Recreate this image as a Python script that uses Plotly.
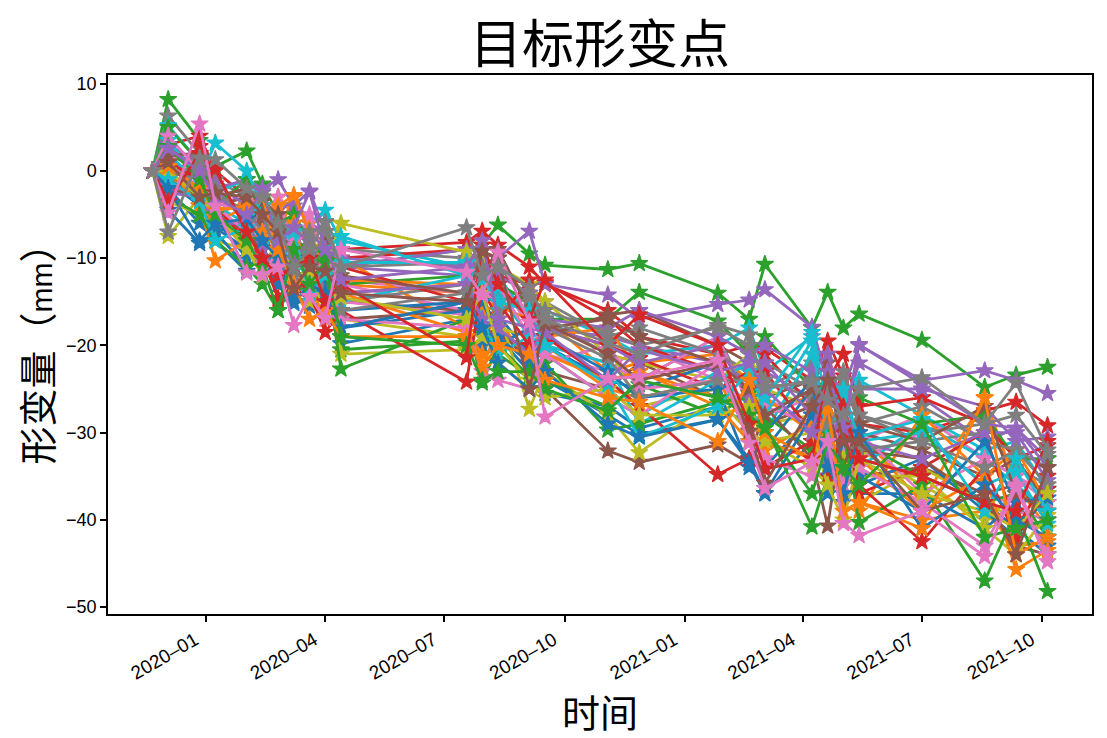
import plotly.graph_objects as go

dates = ["2019-11-21", "2019-12-03", "2019-12-27", "2020-01-08", "2020-02-01", "2020-02-13", "2020-02-25",
         "2020-03-08", "2020-03-20", "2020-04-01", "2020-04-13", "2020-07-18", "2020-07-30", "2020-08-11",
         "2020-09-04", "2020-09-16", "2020-11-03", "2020-11-27", "2021-01-26", "2021-02-19", "2021-03-03",
         "2021-04-08", "2021-04-20", "2021-05-02", "2021-05-14", "2021-07-01", "2021-08-18", "2021-09-11",
         "2021-10-05"]

tick_dates = ["2020-01-01", "2020-04-01", "2020-07-01", "2020-10-01", "2021-01-01", "2021-04-01", "2021-07-01", "2021-10-01"]
y_ticks = [10, 0, -10, -20, -30, -40, -50]

# one list per target point
point_00 = [0, -1.2, -4, -6.5, -9, -11, -13, -11, -14.5, -13, -19.8, -17, -18, -16.5, -21, -24, -28, -30.2, -28.5, -33, -37, -31, -29, -36, -33, -35, -38, -41, -44]
point_01 = [0, -0.3, -2.5, -5, -3.5, -6, -3, -5, -9, -8, -13, -14, -19, -17, -22, -20, -25, -26, -24, -30, -27, -26, -31, -32, -38, -40, -39, -43, -42.5]
point_02 = [0, 8.2, 3.5, 0.5, 2.3, -1.5, -5, -9, -6, -9, -11, -9, -8.5, -6.2, -9.5, -10.8, -11.3, -10.6, -14, -17, -10.7, -18, -13.9, -18, -16.4, -19.4, -24.8, -23.4, -22.5]
point_03 = [0, 3, 4, 0, -3, -7, -10.5, -8, -12, -14, -9, -8.2, -6.9, -8.5, -11, -13, -16, -19, -21, -20, -20.3, -24, -19.5, -23.5, -29, -30, -27.5, -26.5, -29.2]
point_04 = [0, 1.5, -1, -3, -2, -4, -5, -3, -6, -7, -11, -12, -10, -13, -15, -18, -19, -20, -22, -24, -23, -26, -25, -28, -22, -26, -31, -29.5, -33]
point_05 = [0, -1, -2, -4, -8, -5, -9, -11, -13, -10, -15, -16, -14, -19, -20, -23, -25, -22, -26, -28, -29, -27, -33, -31, -35, -34, -37, -36, -40]
point_06 = [0, -4, 1, -5, -2, -6, -8, -7, -10, -12, -12.5, -14, -13, -16, -14, -21, -23, -20, -24, -22, -26, -29, -27, -25, -31, -28, -33, -35, -37]
point_07 = [0, 6.3, 2, -1, -3, -2.5, -6, -9, -8, -5.8, -9, -10, -12, -15, -16, -17, -21, -24, -19, -26, -25, -22, -27, -30, -28, -31, -30, -34, -36]
point_08 = [0, -7.5, -3, -6, -8, -6, -7, -10, -12, -15, -17, -19, -21, -18, -19, -22, -20, -27, -25, -23, -29, -28, -30, -34, -32, -36, -40, -37, -39]
point_09 = [0, 5.2, 1, -2.5, -1, -5, -4, -7, -6, -4.5, -8, -11, -13, -12, -17, -16, -19, -21, -20, -18, -23, -19, -24, -26, -24, -28, -32, -31, -36.5]
point_10 = [0, -2, -6, -8, -11.5, -9, -11, -13, -15, -14, -18, -15, -17, -20, -18, -25.5, -27, -29.5, -27, -29, -34, -28, -32, -34, -37, -37, -41, -38, -43]
point_11 = [0, -0.5, -3, -7, -5, -8, -7, -3, -6, -9, -10, -18, -22.5, -18, -21, -17, -23, -22, -21, -24, -26, -30, -28, -33, -30, -38, -26, -36, -41]
point_12 = [0, 5, 1, -3, -2, -4, -6, -8, -9, -11, -13, -12, -14, -13, -15, -17, -17, -13.9, -17.2, -21, -19, -25, -24, -27, -26, -29, -28, -33, -33]
point_13 = [0, -1.5, 2.8, -2, -6, -10, -12, -10, -9, -12, -10, -9, -11, -12, -13, -12.8, -17, -20, -23, -25, -21, -27, -24, -21, -27, -26, -29, -33, -31.5]
point_14 = [0, 3, 1, -2, -1, -2, -1, -4, -2.3, -7, -11, -9, -12, -10, -6.9, -13, -14.2, -17, -15.3, -14.8, -13.6, -17.9, -24, -25, -20, -24, -22.9, -24, -25.5]
point_15 = [0, -2.5, -1, -4, -3, -6, -9, -13, -11, -8, -14, -13, -16, -10, -15, -19, -16.5, -16, -20, -22, -26, -24, -22, -29, -30, -32, -35, -33, -38]
point_16 = [0, -3, 0, -3.5, -5, -7, -3, -9, -5, -10, -13, -16, -15, -12, -18, -20, -22, -24, -19, -27, -28, -26, -31, -28, -33, -30, -36, -39, -40]
point_17 = [0, 1, -1, -2, -5, -4, -8, -6, -9, -13, -15, -13, -10, -14, -16, -15, -19, -18, -21, -23, -22, -25, -26, -24, -29, -27, -31, -32, -34]
point_18 = [0, -1, -2.5, -5, -7, -8, -10, -12, -13, -11, -6, -9.3, -10.5, -11, -13, -15, -21, -22, -24, -21, -25, -27, -29, -31, -38, -34, -38, -40, -41]
point_19 = [0, 2, -1.5, -4, -6, -9, -7, -12, -10, -9, -7.5, -12, -11, -14, -19, -21, -26, -28, -23, -27, -30, -21, -32, -28, -34, -29, -33, -36, -39]
point_20 = [0, -1, -3, -5.5, -10, -7, -9, -14, -15.5, -12, -16, -15, -20, -19, -23, -20, -24, -25, -22, -31, -32, -25, -30, -38, -36, -33, -39, -42, -37]
point_21 = [0, 0.5, -4, -6, -4, -5, -4, -2.8, -7, -11, -12.5, -13, -16, -15.5, -17, -19, -18, -23, -26, -27, -31, -33, -29, -30, -39, -28, -35, -32, -38]
point_22 = [0, 2, 0, -4, -1, -3, -6, -5, -8, -10, -20.5, -19.5, -18, -21, -23.5, -24, -27, -24.5, -28, -25.5, -28, -32, -30, -35, -31, -35, -38, -37, -42]
point_23 = [0, -2.8, 1, -5, -9, -8, -14.8, -13, -15, -16, -11, -15, -13.5, -17, -12.5, -18, -20, -21.5, -25, -23, -23, -30, -34, -26, -37, -34, -30, -41, -35]
point_24 = [0, 2.5, 0.5, -1.5, -4, -5, -7, -8, -7, -9, -10, -11, -9, -12, -14, -17, -18, -16, -19, -21, -20, -23, -21, -27, -25, -25, -27, -31, -30.5]
point_25 = [0, -2, -3, -5, -7, -9, -12, -11, -13, -15, -17, -16, -19, -18, -22, -25, -32.1, -33.4, -31.4, -33.5, -27, -33, -40.7, -29, -32, -33, -38, -43, -44]
point_26 = [0, 1.2, -2, -4, -8, -4, -11, -10, -12, -14, -15, -16.5, -14.5, -13, -19, -22, -20, -25, -24, -28, -27, -29, -27, -32, -30, -37, -33, -35, -38]
point_27 = [0, 0, -1, -3, -4.5, -7, -5, -8, -11, -7, -11, -10.5, -13, -11, -14.5, -16, -18.5, -20, -18, -20, -24, -26, -25, -23, -28, -30, -29, -28, -32.5]
point_28 = [0, -3.5, -5, -8, -9, -11, -8, -12, -15, -13, -21, -20.5, -19, -16, -27.3, -23, -28, -32.3, -26, -30, -31, -34, -36, -33, -35, -35, -41, -44, -39.5]
point_29 = [0, 3.5, -1, 3.2, 0, -4, -6, -10, -9, -13, -15, -12, -17, -21, -19, -20, -22, -29, -24, -22, -28, -19.5, -31, -25, -31, -30, -36, -34.5, -40.5]
point_30 = [0, -4.5, -8.3, -7, -11, -10, -13, -15, -11, -13, -18, -16, -15, -19, -22, -19, -23, -26, -25, -34, -30, -24, -37, -31, -35, -39, -31, -38, -37.5]
point_31 = [0, 0.3, -4, -10.3, -8, -7, -9, -6, -13, -17, -14, -18.5, -21, -22, -25, -21, -24, -23, -27, -31, -32, -29, -35, -37, -33, -39, -35, -45.7, -43.5]
point_32 = [0, -3, -5, -8, -11, -13, -16, -13, -14, -11, -22.7, -17, -24.3, -20, -23.5, -22, -29.7, -29, -26.5, -26, -29, -40.8, -35, -30, -40.3, -36, -47, -39, -48.2]
point_33 = [0, 1, -1, -4, -8, -10, -14.6, -12, -14, -18.5, -16, -24.2, -13, -15, -20, -19, -24, -27, -34.8, -33, -34, -31, -35, -30, -36, -42.5, -34, -42, -36.5]
point_34 = [0, -2.5, -3, -6, -6, -9, -12, -10, -8, -14, -14, -13, -17, -18, -21, -18, -20, -22, -20, -26, -22, -28, -33, -26, -31, -33, -30, -30, -35.5]
point_35 = [0, 1.8, 2, -3, -2, -3.5, -5, -11, -9, -12, -12, -14, -12, -9, -16, -18, -17, -19, -22, -25, -28, -25, -27, -34, -29, -31, -27, -37, -39]
point_36 = [0, 4, 0, -4, -7, -12, -9, -8, -14, -11, -17, -18, -23, -24, -25, -21, -26, -28, -22, -29, -33, -35, -31, -36, -34, -38, -43, -36, -44]
point_37 = [0, -1, 1, -2, -6, -5, -10, -12, -7, -15, -16, -14, -11, -16, -14.5, -18, -21.5, -26, -24, -24, -25, -24, -29, -27, -32, -31, -34, -32, -36]
point_38 = [0, 0, -3, -5, -9, -12, -11, -13, -12, -16, -14.5, -17, -14, -20, -24, -26, -25, -28, -28, -27, -31, -30, -36, -40, -33, -37, -39, -41, -37]
point_39 = [0, -1, -3.5, -8, -6.5, -3, -8, -7, -14, -12, -10.5, -10.5, -12.5, -15, -16, -20, -24.5, -30.5, -27, -23, -26, -18.5, -27, -26, -30.5, -28.5, -39, -33, -39]
point_40 = [0, -2, -8, -6, -5.5, -8, -10, -15.2, -13, -14, -18, -15, -18, -22, -25, -23, -29, -30.5, -28.5, -33.5, -37, -28, -34, -37, -30, -41, -36, -40, -42]
point_41 = [0, 0.5, -2, -4.5, -4, -3, -9, -13, -17, -16, -19, -19, -22.5, -20, -21, -24, -26, -26.5, -31, -24, -30, -33, -27, -39, -38, -41, -26, -44, -42]
point_42 = [0, 2.8, -1, -5, -8, -11, -16, -9, -13, -10.5, -19, -20, -24, -23, -23, -25, -27.5, -24, -26, -28, -29.5, -37, -31, -34, -36, -29, -42, -41, -40]
point_43 = [0, -3.5, 2, 0.2, -7, -10, -12, -11, -10, -15, -13, -21.4, -8.5, -13, -17, -12.5, -20, -16.5, -20, -29, -34.2, -33, -23, -27, -33, -35, -38, -39, -31]
point_44 = [0, 2.6, 0, -3, -5, -2.3, -8, -6.5, -2.4, -9, -12.5, -11, -8, -17, -18, -18.5, -24, -20.5, -23, -22, -25, -30, -23, -29.5, -19.9, -24.5, -29, -29.5, -34]
point_45 = [0, 1, -3, -2.5, -3, -5, -7, -13.5, -11, -11.5, -14, -15, -9.2, -10, -25, -17.5, -21, -24, -22, -29.8, -35.8, -27, -24, -31, -31, -39, -37, -44, -34]
point_46 = [0, -4.8, 5.4, -4, -11.7, -11.9, -11, -17.7, -14.4, -16.9, -9, -11.6, -14.2, -9.3, -17.3, -28.2, -23.8, -23.6, -21.7, -31.2, -36.4, -33.4, -31, -40.4, -41.8, -39, -44.2, -36.3, -44.8]
point_47 = [0, -7, 1.5, 1.3, -2, -3, -6, -11, -9, -5.9, -11, -6.5, -12, -11, -13.3, -17, -19.7, -21, -17.7, -18.8, -24.8, -24.2, -26.3, -28, -25, -23.7, -29, -24.3, -32]

points = [point_00, point_01, point_02, point_03, point_04, point_05, point_06, point_07, point_08, point_09,
          point_10, point_11, point_12, point_13, point_14, point_15, point_16, point_17, point_18, point_19,
          point_20, point_21, point_22, point_23, point_24, point_25, point_26, point_27, point_28, point_29,
          point_30, point_31, point_32, point_33, point_34, point_35, point_36, point_37, point_38, point_39,
          point_40, point_41, point_42, point_43, point_44, point_45, point_46, point_47]

colors = ["#1f77b4", "#ff7f0e", "#2ca02c", "#d62728", "#9467bd", "#8c564b", "#e377c2", "#7f7f7f", "#bcbd22", "#17becf"]

cjk_font = "Noto Sans CJK SC"
latin_font = "Liberation Sans"

fig = go.Figure()
for i, values in enumerate(points):
    fig.add_trace(go.Scatter(
        x=dates, y=values,
        mode='lines+markers',
        line=dict(color=colors[i % 10], width=2.8),
        marker=dict(color=colors[i % 10], symbol='star', size=13, line=dict(color=colors[i % 10], width=1.2)),
        showlegend=False
    ))

# the page body has an 8px margin, so the figure is 8px smaller each way
fig.update_layout(
    width=1099,
    height=730,
    margin=dict(t=67, l=100, r=15, b=124),
    plot_bgcolor='white',
    paper_bgcolor='white',
    title=dict(text="目标形变点", font=dict(family=cjk_font, size=52, color='black'),
               x=0.5, xref='paper', xanchor='center', y=0.95, yanchor='middle'),
    xaxis=dict(
        type='date',
        range=["2019-10-18", "2021-11-08"],
        tickvals=tick_dates,
        tickformat="%Y–%m",
        tickangle=-30,
        ticklabelshift=-11,
        ticks='outside', ticklen=6, tickwidth=1.5, tickcolor='black',
        tickfont=dict(family=latin_font, size=19, color='black'),
        showgrid=False, zeroline=False,
        showline=True, linecolor='black', linewidth=1.5, mirror=True,
        title=dict(text="时间", font=dict(family=cjk_font, size=38, color='black'), standoff=14),
    ),
    yaxis=dict(
        range=[-50.8, 11],
        tickvals=y_ticks,
        ticks='outside', ticklen=6, tickwidth=1.5, tickcolor='black',
        tickfont=dict(family=latin_font, size=18, color='black'),
        showgrid=False, zeroline=False,
        showline=True, linecolor='black', linewidth=1.5, mirror=True,
        title=dict(text='形变量（<span style="font-family:Liberation Sans;font-size:30px">mm</span>）',
                   font=dict(family=cjk_font, size=38, color='black'), standoff=20),
    ),
)

fig.write_html("out.html", config={"displayModeBar": False})
